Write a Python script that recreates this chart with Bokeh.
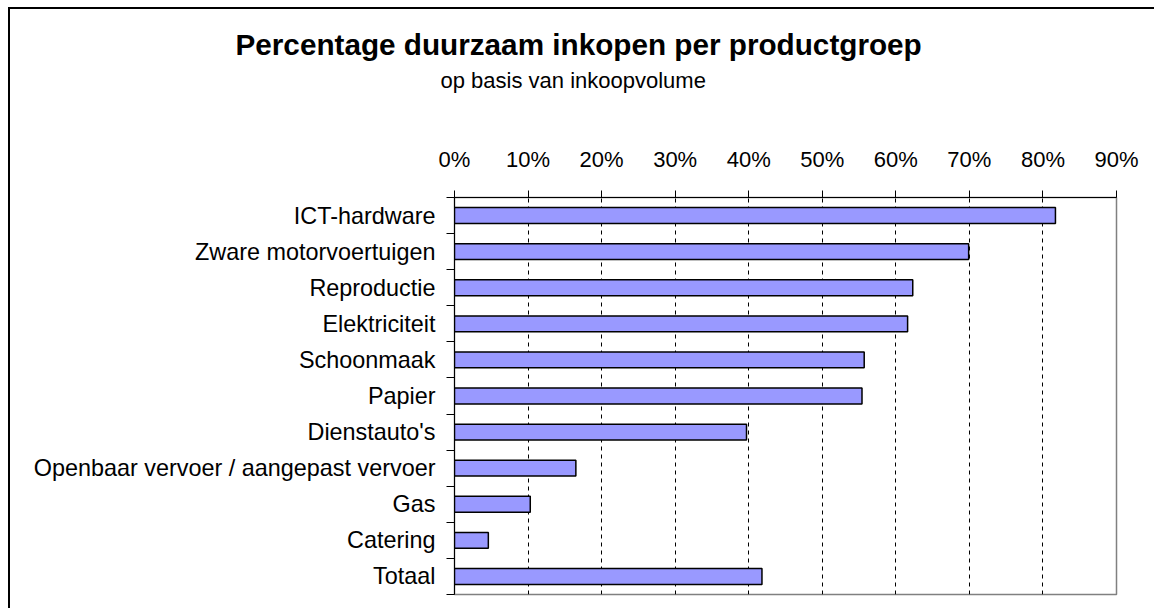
from bokeh.plotting import figure
from bokeh.models import (FactorRange, Range1d, LinearAxis, CategoricalAxis, FixedTicker,
                          NumeralTickFormatter, Title, ColumnDataSource,
                          CustomJSTickFormatter)
from bokeh.embed import file_html
from bokeh.resources import INLINE

# ---- data ----
categories = ["ICT-hardware", "Zware motorvoertuigen", "Reproductie", "Elektriciteit",
              "Schoonmaak", "Papier", "Dienstauto's",
              "Openbaar vervoer / aangepast vervoer", "Gas", "Catering", "Totaal"]
values = [0.817, 0.699, 0.623, 0.616, 0.557, 0.554, 0.397, 0.165, 0.103, 0.046, 0.418]
x_ticks = [0.0, 0.1, 0.2, 0.3, 0.4, 0.5, 0.6, 0.7, 0.8, 0.9]
title_text = "Percentage duurzaam inkopen per productgroep"
subtitle_text = "op basis van inkoopvolume"

FONT = "Liberation Sans"

# the chart's outer frame continues past the right and bottom edges of the window,
# as in the reference
p = figure(width=1150, height=600, output_backend="svg", toolbar_location=None,
           x_range=Range1d(x_ticks[0], x_ticks[-1]),
           y_range=FactorRange(factors=list(reversed(categories))),
           x_axis_location="above", y_axis_location=None,
           min_border_left=444, min_border_right=46, min_border_top=188, min_border_bottom=17)
p.margin = (7, 0, 0, 8)
p.styles = {"border-width": "2px 0px 0px 2px", "border-style": "solid",
            "border-color": "black", "box-sizing": "content-box",
            "overflow": "hidden"}
p.background_fill_color = "white"
p.border_fill_color = "white"
p.outline_line_color = "#808080"
p.outline_line_width = 1.5

# top percentage axis
xa = p.xaxis[0]
xa.ticker = FixedTicker(ticks=x_ticks)
xa.formatter = NumeralTickFormatter(format="0%")
xa.major_tick_out = 7
xa.major_tick_in = 0
xa.minor_tick_out = 0
xa.minor_tick_in = 0
xa.major_label_standoff = 19
xa.major_label_text_font = FONT
xa.major_label_text_font_size = "22px"
xa.major_label_text_color = "black"
xa.axis_line_color = "black"
xa.major_tick_line_color = "black"

# grid
p.xgrid.ticker = FixedTicker(ticks=x_ticks[1:-1])
p.xgrid.grid_line_color = "black"
p.xgrid.grid_line_dash = "4 4"
p.xgrid.grid_line_width = 1
p.ygrid.grid_line_color = None

# left axis: boundary ticks between rows (synthetic coordinates of the factor range)
row_axis = LinearAxis(ticker=FixedTicker(ticks=list(range(len(categories) + 1))),
                      formatter=CustomJSTickFormatter(code="return ''"),
                      major_tick_out=8, major_tick_in=0, minor_tick_out=0, minor_tick_in=0,
                      major_label_standoff=0, axis_line_color="black",
                      major_tick_line_color="black")
p.add_layout(row_axis, "left")

cat_axis = CategoricalAxis(axis_line_color=None, major_tick_line_color=None,
                           major_tick_out=0, major_tick_in=0,
                           major_label_standoff=11, major_label_text_font=FONT,
                           major_label_text_font_size="23.4px", major_label_text_color="black")
p.add_layout(cat_axis, "left")

# bars
source = ColumnDataSource(dict(cat=categories, val=values))
p.hbar(y="cat", left=0, right="val", height=0.44, source=source,
       fill_color="#9999FF", line_color="black", line_width=1.5)

# titles (stacked outward from the axis)
p.add_layout(Title(text=" ", text_font_size="10px", standoff=38), "above")
p.add_layout(Title(text=subtitle_text, align="left", offset=-14, text_font=FONT,
                   text_font_size="22px", text_font_style="normal", text_color="black",
                   vertical_align="bottom", standoff=0), "above")
p.add_layout(Title(text=title_text, align="left", offset=-219, text_font=FONT,
                   text_font_size="29.7px", text_font_style="bold", text_color="black",
                   vertical_align="bottom", standoff=10), "above")

html = file_html(p, INLINE)
html = html.replace("<body>", '<body style="margin:0;overflow:hidden">', 1)
open("out.html", "w").write(html)
